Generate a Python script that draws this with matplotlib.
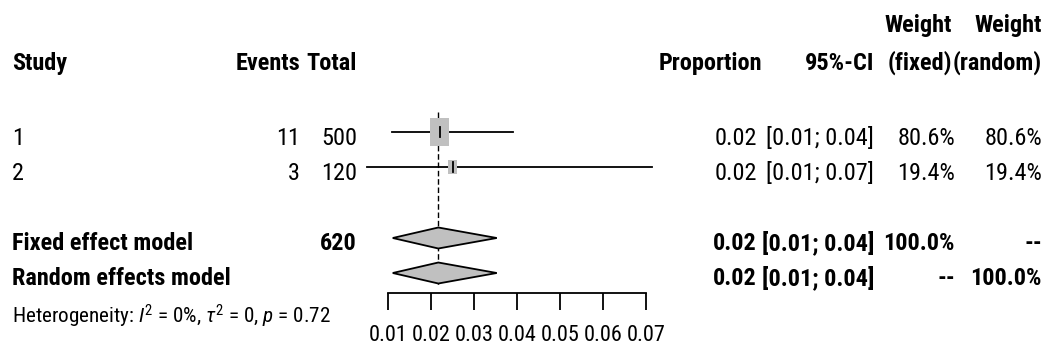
import matplotlib.pyplot as plt
from matplotlib import font_manager
from matplotlib.patches import Rectangle, Polygon

# data
studies = ['1', '2']
events = [11, 3]
totals = [500, 120]
prop = [0.022, 0.025]
ci_lo = [0.011, 0.0051]
ci_hi = [0.039, 0.0713]
prop_txt = ['0.02', '0.02']
ci_txt = ['[0.01; 0.04]', '[0.01; 0.07]']
w_fixed = [80.6, 19.4]
w_random = [80.6, 19.4]

pooled = {'Fixed effect model': (0.0217, 0.0111, 0.0353),
          'Random effects model': (0.0217, 0.0111, 0.0353)}
pooled_total = '620'
pooled_txt = ['0.02', '0.02']
pooled_ci_txt = ['[0.01; 0.04]', '[0.01; 0.04]']
pooled_wf = ['100.0%', '--']
pooled_wr = ['--', '100.0%']
het_txt = r'Heterogeneity: $\mathit{I}^2$ = 0%, $\tau^2$ = 0, $\mathit{p}$ = 0.72'
xticks = [0.01, 0.02, 0.03, 0.04, 0.05, 0.06, 0.07]

names = {f.name for f in font_manager.fontManager.ttflist}
cond = 'Roboto Condensed' in names
FONT = 'Roboto Condensed' if cond else 'Liberation Sans'
FS = 17.5 if cond else 14.5
plt.rcParams['font.family'] = [FONT, 'DejaVu Sans']
plt.rcParams['mathtext.fontset'] = 'custom'
plt.rcParams['mathtext.rm'] = FONT
plt.rcParams['mathtext.it'] = FONT + ':italic'

fig = plt.figure(figsize=(10.6, 3.64), dpi=100)

# text layer in pixel coordinates
ax = fig.add_axes([0, 0, 1, 1])
ax.set_xlim(0, 1060)
ax.set_ylim(364, 0)
ax.axis('off')

# column right edges / baselines
x_study, x_ev, x_tot = 12, 300, 357
x_prop, x_ci, x_wf, x_wr = 757, 874, 955, 1042
y_head, y_rows, y_pool, y_het = 70, [145, 180], [250, 285], 323

def txt(x, y, s, ha='right', bold=False, size=FS):
    ax.text(x, y, s, ha=ha, va='baseline', fontsize=size,
            fontweight='bold' if bold else 'normal')

txt(x_study, y_head, 'Study', ha='left', bold=True)
txt(x_ev, y_head, 'Events', bold=True)
txt(x_tot, y_head, 'Total', bold=True)
txt(x_prop + 5, y_head, 'Proportion', bold=True)
txt(x_ci, y_head, '95%-CI', bold=True)
txt(x_wf - 3, 32, 'Weight', bold=True)
txt(x_wf - 3, y_head, '(fixed)', bold=True)
txt(x_wr, 32, 'Weight', bold=True)
txt(x_wr, y_head, '(random)', bold=True)

for i, s in enumerate(studies):
    y = y_rows[i]
    txt(x_study, y, s, ha='left')
    txt(x_ev, y, str(events[i]))
    txt(x_tot, y, str(totals[i]))
    txt(x_prop, y, prop_txt[i])
    txt(x_ci, y, ci_txt[i])
    txt(x_wf, y, f'{w_fixed[i]:.1f}%')
    txt(x_wr, y, f'{w_random[i]:.1f}%')

for i, name in enumerate(pooled):
    y = y_pool[i]
    txt(x_study, y, name, ha='left', bold=True)
    if i == 0:
        txt(x_tot, y, pooled_total, bold=True)
    txt(x_prop, y, pooled_txt[i], bold=True)
    txt(x_ci, y, pooled_ci_txt[i], bold=True)
    txt(x_wf, y, pooled_wf[i], bold=True)
    txt(x_wr, y, pooled_wr[i], bold=True)

txt(x_study, y_het, het_txt, ha='left', size=FS * 0.87)

# forest panel: x in proportion units, y in pixel rows
fax = fig.add_axes([388 / 1060, 71 / 364, 258 / 1060, 293 / 364])
fax.set_xlim(xticks[0], xticks[-1])
fax.set_ylim(293, 0)
fax.patch.set_visible(False)
for sp in ['top', 'left', 'right']:
    fax.spines[sp].set_visible(False)
fax.spines['bottom'].set_linewidth(1.3)
fax.set_yticks([])
fax.set_xticks(xticks)
fax.set_xticklabels([f'{t:.2f}' for t in xticks], fontsize=FS - 1.5)
fax.tick_params(axis='x', direction='out', length=12, width=1.3, pad=11)

px = (xticks[-1] - xticks[0]) / 258  # data units per pixel

# pooled estimate reference line
fax.plot([pooled['Fixed effect model'][0]] * 2, [112, 287], color='black',
         lw=1, ls=(0, (4, 2)), zorder=1, clip_on=False)

for i in range(len(studies)):
    y = y_rows[i] - 13
    fax.plot([ci_lo[i], ci_hi[i]], [y, y], color='black', lw=1.3,
             zorder=2, clip_on=False)
    side = 22 * (w_fixed[i] / 100) ** 0.5
    fax.add_patch(Rectangle((prop[i] - side / 2 * px, y - side * 0.7),
                            side * px, side * 1.4, facecolor='#c0c0c0',
                            edgecolor='none', zorder=3, clip_on=False))
    fax.plot([prop[i]] * 2, [y - 5, y + 5], color='black', lw=1.3,
             zorder=4, clip_on=False)

for i, name in enumerate(pooled):
    est, lo, hi = pooled[name]
    y = y_pool[i] - 12
    fax.add_patch(Polygon([(lo, y), (est, y - 10.5), (hi, y), (est, y + 10.5)],
                          closed=True, facecolor='#c0c0c0', edgecolor='black',
                          lw=1.3, zorder=3, clip_on=False))

fig.savefig('out.png', dpi=100)
